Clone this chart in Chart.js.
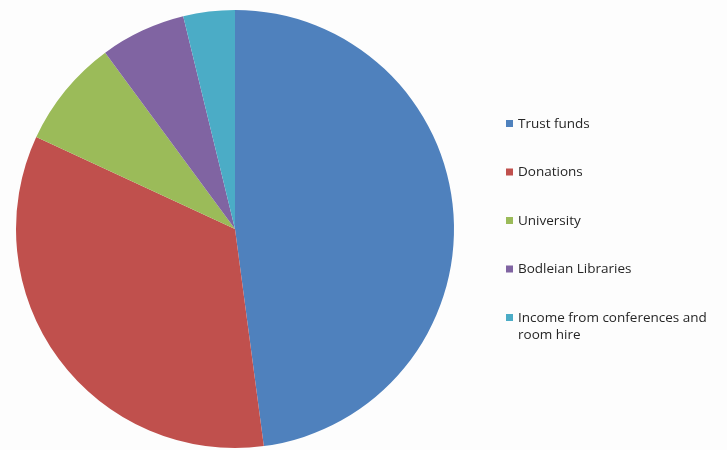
<!DOCTYPE html>
<html>
<head>
<meta charset="utf-8">
<script src="https://cdn.jsdelivr.net/npm/chart.js@4.4.0/dist/chart.umd.min.js"></script>
<style>
  html, body { margin: 0; padding: 0; background: #fdfdfd; }
  #wrap { width: 727px; height: 450px; position: relative; }
</style>
</head>
<body>
<div id="wrap"><canvas id="myChart"></canvas></div>
<script>
// data (percent of income)
var labels = ['Trust funds', 'Donations', 'University', 'Bodleian Libraries', 'Income from conferences and room hire'];
var values = [47.9, 34.0, 8.0, 6.3, 3.8];
var colors = ['#4F81BD', '#C0504D', '#9BBB59', '#8064A2', '#4BACC6'];
// legend lines, the last item wraps on two lines
var legendLines = [['Trust funds'], ['Donations'], ['University'], ['Bodleian Libraries'], ['Income from conferences and', 'room hire']];

// simple legend drawn next to the pie
var sideLegend = {
    id: 'sideLegend',
    afterDraw: function (chart) {
        var ctx = chart.ctx;
        ctx.save();
        ctx.font = '13.5px "Open Sans", "DejaVu Sans", sans-serif';
        ctx.textBaseline = 'middle';
        var y = 124;
        for (var i = 0; i < legendLines.length; i++) {
            ctx.fillStyle = colors[i];
            ctx.fillRect(506, y - 4, 7, 7);
            ctx.fillStyle = '#262626';
            for (var j = 0; j < legendLines[i].length; j++) {
                ctx.fillText(legendLines[i][j], 518, y + j * 17);
            }
            y += 48.5;
        }
        ctx.restore();
    }
};

var ctx = document.getElementById('myChart');
var myChart = new Chart(ctx, {
    type: 'pie',
    data: {
        labels: labels,
        datasets: [{
            data: values,
            backgroundColor: colors,
            borderWidth: 0
        }]
    },
    options: {
        responsive: true,
        maintainAspectRatio: false,
        animation: false,
        layout: { padding: { left: 16, top: 10, right: 273, bottom: 2 } },
        plugins: {
            legend: { display: false },
            tooltip: { enabled: false }
        }
    },
    plugins: [sideLegend]
});
</script>
</body>
</html>
